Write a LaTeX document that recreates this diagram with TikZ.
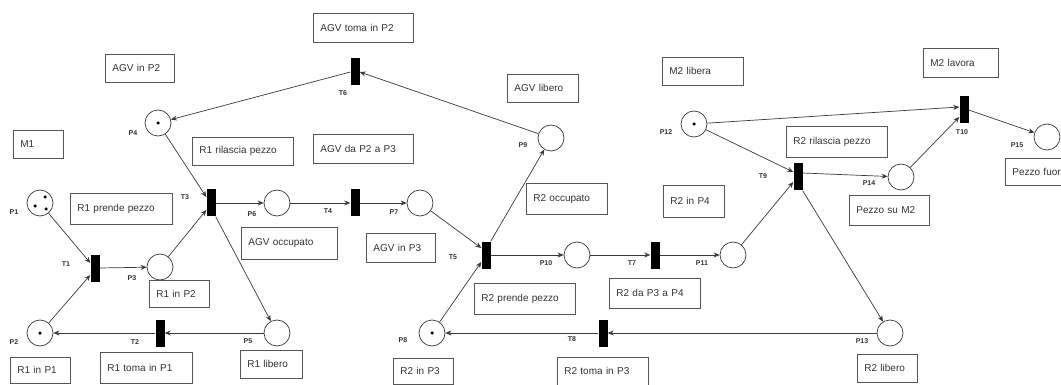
\documentclass[tikz,border=0pt]{standalone}
\usepackage{fontspec}
\setmainfont{Liberation Sans}
\usetikzlibrary{arrows.meta}
\definecolor{linec}{HTML}{3A3A3A}
\definecolor{boxc}{HTML}{555555}
\definecolor{textc}{HTML}{333333}
\begin{document}
\begin{tikzpicture}[x=1pt,y=-1pt,
  place/.style={circle, draw=linec, line width=0.7pt, minimum size=26pt, inner sep=0pt},
  trans/.style={rectangle, fill=black, minimum width=9pt, minimum height=27pt, inner sep=0pt},
  lbl/.style={font=\fontsize{7}{8}\selectfont\bfseries, text=textc, inner sep=0pt},
  box/.style={draw=boxc, line width=0.7pt, inner xsep=7pt, inner ysep=0pt, align=left, anchor=north west, font=\fontsize{10}{12}\selectfont, text=textc},
  tok/.style={circle, fill=black, minimum size=3.5pt, inner sep=0pt},
  arc/.style={draw=linec, line width=0.7pt, -{Stealth[length=6pt,width=5pt]}}
]
\useasboundingbox (0,0) rectangle (1061,385);
\clip (0,0) rectangle (1061,385);
\fill[white] (0,0) rectangle (1061,385);

% boxes
\node[box, text width=36pt, minimum height=28pt] (bM1) at (13,130) {M1};
\node[box, text width=55pt, minimum height=28pt] (bAGVP2) at (105,54) {AGV in P2};
\node[box, text width=86pt, minimum height=29pt] (bAGVtP2) at (313,13) {AGV toma in P2};
\node[box, text width=88pt, minimum height=31pt] (bR1pp) at (70,193) {R1 prende pezzo};
\node[box, text width=87pt, minimum height=28pt] (bR1rp) at (192,137) {R1 rilascia pezzo};
\node[box, text width=86pt, minimum height=29pt] (bAGVda) at (313,134) {AGV da P2 a P3};
\node[box, text width=46pt, minimum height=27pt] (bR1P2) at (149,280) {R1 in P2};
\node[box, text width=46pt, minimum height=26pt] (bR1P1) at (10,357) {R1 in P1};
\node[box, text width=78pt, minimum height=31pt] (bR1tP1) at (100,352) {R1 toma in P1};
\node[box, text width=48pt, minimum height=28pt] (bR1lib) at (240,350) {R1 libero};
\node[box, text width=82pt, minimum height=32pt] (bAGVocc) at (241,227) {AGV occupato};
\node[box, text width=55pt, minimum height=29pt] (bAGVP3) at (366,233) {AGV in P3};
\node[box, text width=57pt, minimum height=28pt] (bAGVlib) at (507,74) {AGV libero};
\node[box, text width=67pt, minimum height=31pt] (bR2occ) at (526,183) {R2 occupato};
\node[box, text width=87pt, minimum height=31pt] (bR2pp) at (474,283) {R2 prende pezzo};
\node[box, text width=77pt, minimum height=30pt] (bR2da) at (609,278) {R2 da P3 a P4};
\node[box, text width=46pt, minimum height=26pt] (bR2P3) at (393,358) {R2 in P3};
\node[box, text width=77pt, minimum height=28pt] (bR2tP3) at (557,357) {R2 toma in P3};
\node[box, text width=67pt, minimum height=28pt] (bM2lib) at (662,57) {M2 libera};
\node[box, text width=47pt, minimum height=32pt] (bR2P4) at (663,185) {R2 in P4};
\node[box, text width=87pt, minimum height=31pt] (bR2rp) at (786,126) {R2 rilascia pezzo};
\node[box, text width=61pt, minimum height=29pt] (bM2lav) at (923,48) {M2 lavora};
\node[box, text width=66pt, minimum height=30pt] (bPsM2) at (849,195) {Pezzo su M2};
\node[box, text width=66pt, minimum height=27pt] (bPfuori) at (1005,158) {Pezzo fuori};
\node[box, text width=46pt, minimum height=28pt] (bR2lib) at (857,354) {R2 libero};

% places
\node[place] (P1) at (40,203) {};
\node[place] (P2) at (40,333) {};
\node[place] (P3) at (160,267) {};
\node[place] (P4) at (158,123) {};
\node[place] (P5) at (277,333) {};
\node[place] (P6) at (277,203) {};
\node[place] (P7) at (420,203) {};
\node[place] (P8) at (432,333) {};
\node[place] (P9) at (551,138) {};
\node[place] (P10) at (577,255) {};
\node[place] (P11) at (733,255) {};
\node[place] (P12) at (694,124) {};
\node[place] (P13) at (890,333) {};
\node[place] (P14) at (901,177) {};
\node[place] (P15) at (1047,137) {};

% tokens
\node[tok] (k1a) at (45,197) {};
\node[tok] (k1b) at (35,206) {};
\node[tok] (k1c) at (46,209) {};
\node[tok] (k2) at (40,333) {};
\node[tok] (k4) at (158,123) {};
\node[tok] (k8) at (432,333) {};
\node[tok] (k12) at (694,124) {};

% transitions
\node[trans] (T1) at (95,268) {};
\node[trans] (T2) at (160,333) {};
\node[trans] (T3) at (211,203) {};
\node[trans] (T4) at (355,203) {};
\node[trans] (T5) at (486,255) {};
\node[trans] (T6) at (355,72) {};
\node[trans] (T7) at (655,255) {};
\node[trans] (T8) at (603,333) {};
\node[trans] (T9) at (798,177) {};
\node[trans] (T10) at (964,110) {};

% labels
\node[lbl] (lP1) at (14,212) {P1};
\node[lbl] (lP2) at (14,342) {P2};
\node[lbl] (lP3) at (132,278) {P3};
\node[lbl] (lP4) at (133,133) {P4};
\node[lbl] (lP5) at (248,341) {P5};
\node[lbl] (lP6) at (252,214) {P6};
\node[lbl] (lP7) at (394,212) {P7};
\node[lbl] (lP8) at (403,340) {P8};
\node[lbl] (lP9) at (523,145) {P9};
\node[lbl] (lP10) at (546,263) {P10};
\node[lbl] (lP11) at (702,263) {P11};
\node[lbl] (lP12) at (666,132) {P12};
\node[lbl] (lP13) at (862,341) {P13};
\node[lbl] (lP14) at (869,183) {P14};
\node[lbl] (lP15) at (1017,145) {P15};
\node[lbl] (lT1) at (66,264) {T1};
\node[lbl] (lT2) at (135,342) {T2};
\node[lbl] (lT3) at (185,197) {T3};
\node[lbl] (lT4) at (328,211) {T4};
\node[lbl] (lT5) at (453,257) {T5};
\node[lbl] (lT6) at (343,93) {T6};
\node[lbl] (lT7) at (632,263) {T7};
\node[lbl] (lT8) at (572,339) {T8};
\node[lbl] (lT9) at (763,176) {T9};
\node[lbl] (lT10) at (962,132) {T10};

% arcs
\draw[arc] (P1) -- ([yshift=5pt]T1.west);
\draw[arc] (P2) -- ([yshift=-7pt]T1.west);
\draw[arc] (T1.east) -- (P3);
\draw[arc] (P3) -- ([yshift=-7pt]T3.west);
\draw[arc] (P4) -- ([yshift=6pt]T3.west);
\draw[arc] (T3.east) -- (P6);
\draw[arc] (T3.south east) -- (P5);
\draw[arc] (P5) -- (T2.east);
\draw[arc] (T2.west) -- (P2);
\draw[arc] (P6) -- (T4.west);
\draw[arc] (T4.east) -- (P7);
\draw[arc] (P7) -- ([yshift=7pt]T5.west);
\draw[arc] (P8) -- ([yshift=-7pt]T5.west);
\draw[arc] (T5.north east) -- (P9);
\draw[arc] (T5.east) -- (P10);
\draw[arc] (P9) -- (T6.east);
\draw[arc] (T6.west) -- (P4);
\draw[arc] (P10) -- (T7.west);
\draw[arc] (T7.east) -- (P11);
\draw[arc] (P11) -- ([yshift=-5pt]T9.west);
\draw[arc] (P12) -- ([yshift=5pt]T9.west);
\draw[arc] (P12) -- ([yshift=3pt]T10.west);
\draw[arc] ([yshift=4pt]T9.east) -- (P14);
\draw[arc] (T9.south east) -- (P13);
\draw[arc] (P13) -- (T8.east);
\draw[arc] (T8.west) -- (P8);
\draw[arc] (P14) -- ([yshift=-7pt]T10.west);
\draw[arc] (T10.east) -- (P15);
\end{tikzpicture}
\end{document}
